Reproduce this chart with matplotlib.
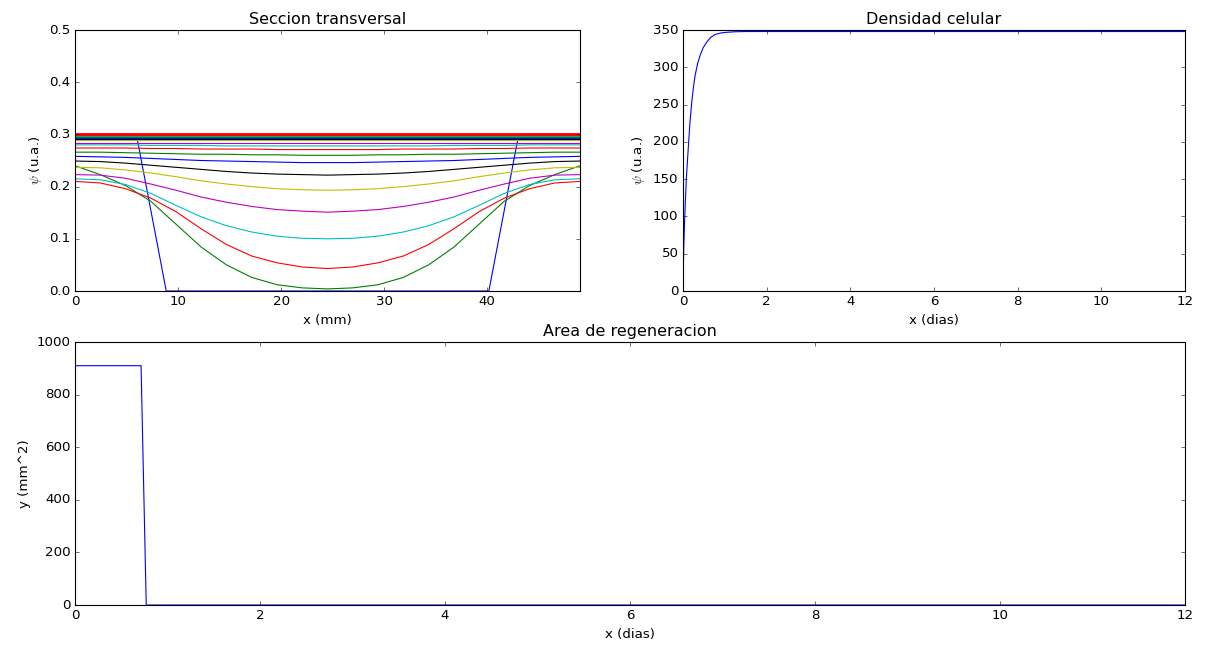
import numpy as np
import matplotlib
matplotlib.use('Agg')
import matplotlib.pyplot as plt

plt.style.use('classic')

# perfiles de la seccion transversal (x en mm)
x_mm = [0.0, 2.45, 4.9, 7.35, 9.8, 12.25, 14.7, 17.15, 19.6, 22.05, 24.5,
        26.95, 29.4, 31.85, 34.3, 36.75, 39.2, 41.65, 44.1, 46.55, 49.0]

x_ini = [0.0, 5.95, 8.85, 40.15, 43.05, 49.0]
psi_ini = [0.3, 0.3, 0.0, 0.0, 0.3, 0.3]

psi_t1 = [0.240, 0.223, 0.202, 0.172, 0.128, 0.084, 0.050, 0.026, 0.012, 0.006, 0.004,
          0.006, 0.012, 0.026, 0.050, 0.084, 0.128, 0.172, 0.202, 0.223, 0.240]
psi_t2 = [0.210, 0.207, 0.196, 0.178, 0.152, 0.119, 0.089, 0.067, 0.054, 0.046, 0.043,
          0.046, 0.054, 0.067, 0.089, 0.119, 0.152, 0.178, 0.196, 0.207, 0.210]
psi_t3 = [0.215, 0.213, 0.204, 0.187, 0.164, 0.142, 0.125, 0.113, 0.105, 0.101, 0.100,
          0.101, 0.105, 0.113, 0.125, 0.142, 0.164, 0.187, 0.204, 0.213, 0.215]
psi_t4 = [0.223, 0.222, 0.216, 0.205, 0.193, 0.180, 0.170, 0.162, 0.156, 0.153, 0.151,
          0.153, 0.156, 0.162, 0.170, 0.180, 0.193, 0.205, 0.216, 0.222, 0.223]
psi_t5 = [0.237, 0.236, 0.232, 0.226, 0.219, 0.211, 0.205, 0.200, 0.196, 0.194, 0.193,
          0.194, 0.196, 0.200, 0.205, 0.211, 0.219, 0.226, 0.232, 0.236, 0.237]
psi_t6 = [0.249, 0.248, 0.245, 0.241, 0.237, 0.233, 0.229, 0.226, 0.224, 0.223, 0.222,
          0.223, 0.224, 0.226, 0.229, 0.233, 0.237, 0.241, 0.245, 0.248, 0.249]
psi_t7 = [0.258, 0.257, 0.256, 0.254, 0.252, 0.250, 0.249, 0.248, 0.247, 0.246, 0.246,
          0.246, 0.247, 0.248, 0.249, 0.250, 0.252, 0.254, 0.256, 0.257, 0.258]
psi_t8 = [0.266, 0.266, 0.265, 0.264, 0.263, 0.262, 0.262, 0.261, 0.261, 0.260, 0.260,
          0.260, 0.261, 0.261, 0.262, 0.262, 0.263, 0.264, 0.265, 0.266, 0.266]
psi_t9 = [0.274, 0.274, 0.274, 0.273, 0.273, 0.272, 0.272, 0.272, 0.271, 0.271, 0.271,
          0.271, 0.271, 0.272, 0.272, 0.272, 0.273, 0.273, 0.274, 0.274, 0.274]
psi_t10 = [0.280, 0.280, 0.280, 0.279, 0.279, 0.279, 0.278, 0.278, 0.278, 0.278, 0.278,
           0.278, 0.278, 0.278, 0.278, 0.279, 0.279, 0.279, 0.280, 0.280, 0.280]
# perfiles ya casi planos (t11 en adelante)
niveles_finales = [0.2845, 0.2885, 0.292, 0.294, 0.2955, 0.2965, 0.2975,
                   0.298, 0.2985, 0.299, 0.2995, 0.2997, 0.2999]

# densidad celular vs tiempo
t_dens = [0, 0.005, 0.01, 0.02, 0.04, 0.08, 0.135, 0.17, 0.21, 0.25, 0.29, 0.35,
          0.41, 0.48, 0.57, 0.66, 0.77, 0.9, 1.05, 1.25, 1.5, 2.0, 12.0]
densidad = [0, 18, 33, 60, 96, 150, 199, 228, 253, 273, 289, 305,
            316, 326, 334, 340, 344, 346, 347, 347.7, 348, 348, 348]

# area de regeneracion vs tiempo
t_area = [0, 0.714, 0.77, 12.0]
area = [910, 910, 0, 0]

fig = plt.figure(figsize=(15.15, 8.125), dpi=80, facecolor='white')
ax1 = fig.add_axes([0.0619, 0.5523, 0.4167, 0.4015])
ax2 = fig.add_axes([0.5635, 0.5523, 0.4142, 0.4015])
ax3 = fig.add_axes([0.0619, 0.0692, 0.9158, 0.4046])

ax1.plot(x_ini, psi_ini)
for p in [psi_t1, psi_t2, psi_t3, psi_t4, psi_t5, psi_t6, psi_t7,
          psi_t8, psi_t9, psi_t10]:
    ax1.plot(x_mm, p)
for i, nv in enumerate(niveles_finales):
    lw = 2.5 if i == len(niveles_finales) - 1 else 1.0
    ax1.plot(x_mm, np.full(len(x_mm), nv), lw=lw)
ax1.set_xlim(0, 49)
ax1.set_ylim(0, 0.5)
ax1.set_title('Seccion transversal')
ax1.set_xlabel('x (mm)')
ax1.set_ylabel(r'$\psi$ (u.a.)')

ax2.plot(t_dens, densidad, color='b')
ax2.set_xlim(0, 12)
ax2.set_ylim(0, 350)
ax2.set_title('Densidad celular')
ax2.set_xlabel('x (dias)')
ax2.set_ylabel(r'$\psi$ (u.a.)')

ax3.plot(t_area, area, color='b')
ax3.set_xlim(0, 12)
ax3.set_ylim(0, 1000)
ax3.set_title('Area de regeneracion')
ax3.set_xlabel('x (dias)')
ax3.set_ylabel('y (mm^2)')

fig.savefig('out.png', dpi=80, facecolor='white')
